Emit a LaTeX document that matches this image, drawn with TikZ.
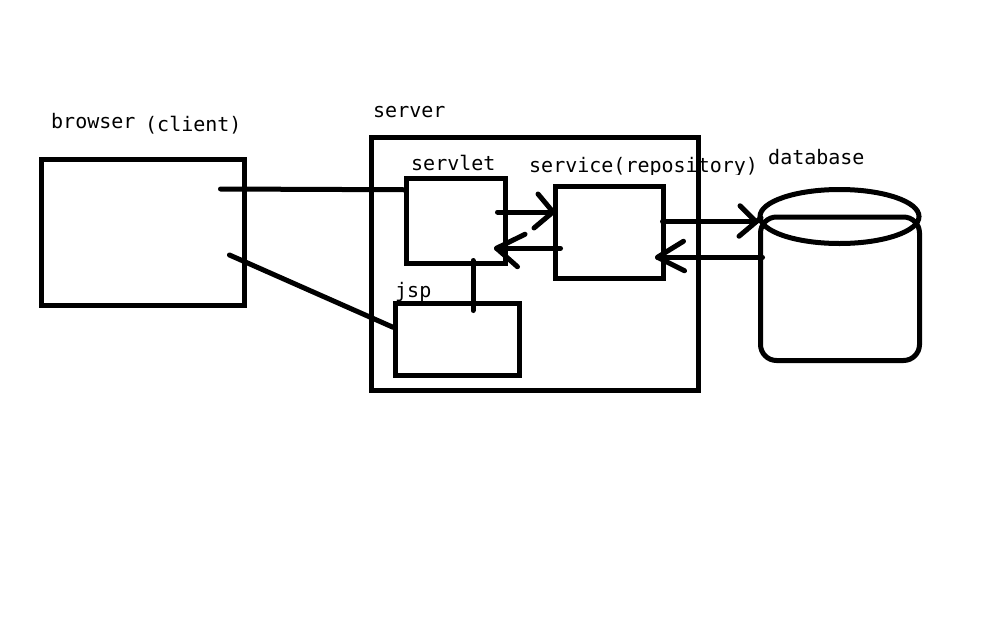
\documentclass[tikz,border=0pt]{standalone}
\usepackage{fontspec}
\setmonofont{DejaVu Sans Mono}
\usetikzlibrary{calc,shapes.geometric}
\begin{document}
\begin{tikzpicture}[x=1pt,y=-1pt,
  lbl/.style={anchor=base west,inner sep=0pt,font=\ttfamily\fontsize{20pt}{24pt}\selectfont},
  box/.style={draw,line width=5pt,inner sep=0pt,line join=miter},
  wire/.style={line width=5pt,line cap=round,line join=round}]
\useasboundingbox[fill=white] (0,0) rectangle (1006,640);

% labels (drawn first, the boxes sit on top of them)
\node[lbl] (tbrowser) at (51,128) {browser};
\node[lbl] (tclient) at (145,131) {(client)};
\node[lbl] (tserver) at (373,117) {server};
\node[lbl] (tservlet) at (411,170) {servlet};
\begin{scope}
  \clip (520,140) rectangle (790,174);
  \node[lbl] (tservice) at (529,172) {service(repository)};
\end{scope}
\node[lbl] (tdb) at (768,164) {database};
\node[lbl] (tjsp) at (395,297.5) {jsp};

% boxes
\node[box,minimum width=203pt,minimum height=146pt] (browser) at (143,232.5) {};
\node[box,minimum width=327pt,minimum height=252.5pt] (server) at (535,263.75) {};
\node[box,minimum width=98.5pt,minimum height=85.5pt] (servlet) at (455.75,220.75) {};
\node[box,minimum width=108pt,minimum height=92pt] (service) at (609.5,232.5) {};
\node[box,minimum width=124pt,minimum height=72.5pt] (jsp) at (457.5,339.25) {};

% database cylinder
\node[draw,line width=5pt,inner sep=0pt,rounded corners=16pt,
      minimum width=159pt,minimum height=143.5pt] (dbbody) at (840,288.75) {};
\node[draw,line width=5pt,inner sep=0pt,ellipse,
      minimum width=159pt,minimum height=54pt] (dbtop) at (839.5,216.5) {};

% browser to servlet and jsp
\draw[wire] ([xshift=-26.5pt,yshift=43.5pt]browser.east) -- ([yshift=31pt]servlet.west);
\draw[wire] ([xshift=-17.5pt,yshift=-22.5pt]browser.east) -- ([yshift=12pt]jsp.west);

% servlet to jsp
\draw[wire] ([xshift=17.25pt,yshift=5.5pt]servlet.south) -- ([xshift=15.5pt,yshift=-10pt]jsp.north);

% servlet -> service
\coordinate (t1) at ([yshift=20.5pt]service.west);
\draw[wire] ([xshift=-10pt,yshift=8.75pt]servlet.east) -- (t1);
\draw[wire] ($(t1)+(-15,-18)$) -- (t1) -- ($(t1)+(-19,16)$);

% service -> servlet
\coordinate (t2) at ([xshift=-11pt,yshift=-27.5pt]servlet.east);
\draw[wire] ([xshift=7.5pt,yshift=-15.75pt]service.west) -- (t2);
\draw[wire] ($(t2)+(28.5,-14)$) -- (t2) -- ($(t2)+(21,18.5)$);

% service -> database (the lower stroke of the head runs a little past the tip)
\coordinate (t3) at ([xshift=-1.5pt,yshift=-5.25pt]dbtop.west);
\draw[wire] ([xshift=-3.5pt,yshift=10.75pt]service.east) -- (t3);
\draw[wire] ($(t3)+(-16,-16)$) -- (t3);
\draw[wire] ($(t3)+(-17,14.5)$) -- ($(t3)+(5,-4)$);

% database -> service
\coordinate (t4) at ([xshift=-8.5pt,yshift=-24.75pt]service.east);
\draw[wire] ([xshift=4.5pt,yshift=31.5pt]dbbody.west) -- (t4);
\draw[wire] ($(t4)+(26,-16)$) -- (t4) -- ($(t4)+(27,13.5)$);
\end{tikzpicture}
\end{document}
